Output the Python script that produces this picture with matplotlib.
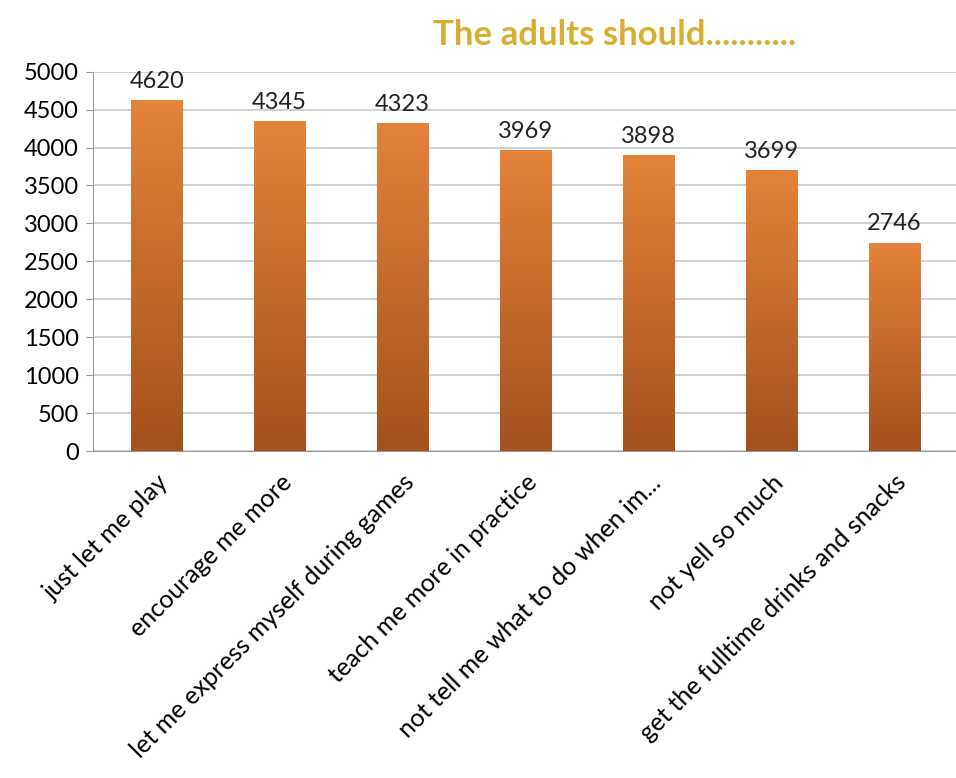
import numpy as np
import matplotlib.pyplot as plt
from matplotlib.colors import LinearSegmentedColormap

categories = ["just let me play", "encourage me more",
              "let me express myself during games", "teach me more in practice",
              "not tell me what to do when im...", "not yell so much",
              "get the fulltime drinks and snacks"]
values = [4620, 4345, 4323, 3969, 3898, 3699, 2746]
yticks = [0, 500, 1000, 1500, 2000, 2500, 3000, 3500, 4000, 4500, 5000]

plt.rcParams['font.family'] = ['Lato', 'DejaVu Sans']

fig = plt.figure(figsize=(9.56, 7.78), dpi=100)
ax = fig.add_axes([0.097, 0.42, 0.903, 0.488])

x = np.arange(len(categories))
bars = ax.bar(x, values, width=0.42, color='#D06F25', zorder=2)

# vertical gradient inside each bar, light orange at top, brown at bottom
cmap = LinearSegmentedColormap.from_list('bar', ['#A3511D', '#E4833A'])
grad = np.linspace(0, 1, 256).reshape(-1, 1)
for b in bars:
    x0, y0 = b.get_x(), b.get_y()
    w, h = b.get_width(), b.get_height()
    im = ax.imshow(grad, cmap=cmap, origin='lower', aspect='auto',
                   extent=[x0, x0 + w, y0, y0 + h], zorder=3)
    im.set_clip_path(b)

for xi, v in zip(x, values):
    ax.text(xi, v + 110, str(v), ha='center', va='bottom', fontsize=17, color='#222222')

ax.set_xlim(-0.52, len(categories) - 0.5)
ax.set_ylim(0, 5000)
ax.set_yticks(yticks)
ax.set_yticklabels([str(t) for t in yticks], fontsize=17)
ax.yaxis.grid(True, color='#C8C8C8', linewidth=1.2, zorder=0)
ax.set_axisbelow(True)
ax.set_xticks(x)
ax.set_xticklabels(categories, rotation=45, ha='right', rotation_mode='anchor', fontsize=18)
ax.tick_params(axis='x', length=0, pad=14)
ax.tick_params(axis='y', length=5, color='#999999', pad=5)
for s in ['top', 'right']:
    ax.spines[s].set_visible(False)
ax.spines['left'].set_color('#999999')
ax.spines['bottom'].set_color('#999999')

fig.text(0.453, 0.955, "The adults should...........", ha='left', va='center',
         fontsize=25, fontweight='bold', color='#D9AE2E')

fig.savefig('out.png', dpi=100)
